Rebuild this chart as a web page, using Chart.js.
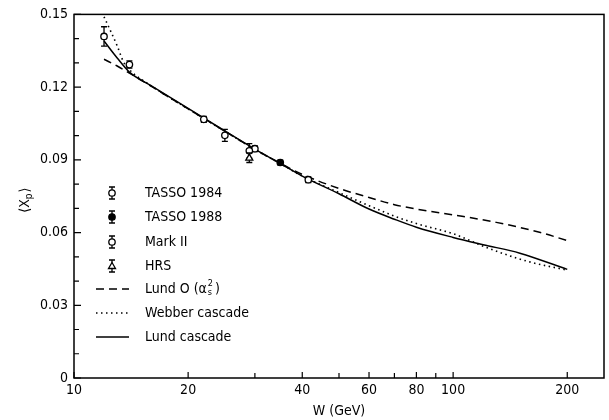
<!DOCTYPE html>
<html><head><meta charset="utf-8">
<script src="https://cdn.jsdelivr.net/npm/chart.js@4.4.0/dist/chart.umd.min.js"></script>
<style>html,body{margin:0;padding:0;background:#fff}</style>
</head><body>
<canvas id="c" width="609" height="420" style="width:609px;height:420px;display:block"></canvas>
<script>
// ---- data ----
const tasso84W = [12, 14, 22, 25, 30, 41.5];
const tasso84X = [0.1409, 0.1293, 0.1067, 0.1001, 0.0946, 0.0818];
const tasso84E = [0.0040, 0.0015, 0.0012, 0.0025, 0.0012, 0.0012];
const tasso88W = [35];
const tasso88X = [0.0889];
const tasso88E = [0.0010];
const mark2W = [29];
const mark2X = [0.0937];
const mark2E = [0.0030];
const hrsW = [29];
const hrsX = [0.0909];
const hrsE = [0.0020];

const lundOW = [12, 13, 14, 16, 20, 25, 30, 35, 40, 50, 60, 70, 80, 100, 130, 170, 200];
const lundOX = [0.1315, 0.1287, 0.1258, 0.1203, 0.1110, 0.1018, 0.0943, 0.0886, 0.0840, 0.0782, 0.0745, 0.0715, 0.0697, 0.0673, 0.0642, 0.0600, 0.0567];
const webberW = [12, 12.5, 13, 13.5, 14, 16, 20, 25, 30, 35, 40, 50, 60, 70, 80, 100, 125, 160, 200];
const webberX = [0.1490, 0.1430, 0.1370, 0.1305, 0.1272, 0.1205, 0.1110, 0.1018, 0.0943, 0.0885, 0.0833, 0.0765, 0.0711, 0.0668, 0.0637, 0.0595, 0.0533, 0.0478, 0.0445];
const lundCW = [12, 13, 14, 16, 20, 25, 30, 35, 40, 50, 60, 70, 80, 100, 120, 150, 200];
const lundCX = [0.1390, 0.1320, 0.1262, 0.1205, 0.1112, 0.1019, 0.0944, 0.0885, 0.0833, 0.0760, 0.0697, 0.0655, 0.0622, 0.0580, 0.0550, 0.0515, 0.0448];

const xTickLabels = [10, 20, 40, 60, 80, 100, 200];
const xMinorTicks = [30, 50, 70, 90];
const yTickLabels = [0, 0.03, 0.06, 0.09, 0.12, 0.15];
const yMinorTicks = [0.01, 0.02, 0.04, 0.05, 0.07, 0.08, 0.10, 0.11, 0.13, 0.14];

const FONT = "'DejaVu Sans Condensed', 'DejaVu Sans', sans-serif";
const pts = (w, v) => w.map((x, i) => ({x, y: v[i]}));

function drawSymbol(ctx, kind, x, y, eTop, eBot) {
  ctx.save();
  ctx.strokeStyle = '#000'; ctx.fillStyle = '#000'; ctx.lineWidth = 1.3;
  if (eTop !== null) {
    ctx.beginPath();
    ctx.moveTo(x, eTop); ctx.lineTo(x, eBot);
    ctx.moveTo(x - 3, eTop); ctx.lineTo(x + 3, eTop);
    ctx.moveTo(x - 3, eBot); ctx.lineTo(x + 3, eBot);
    ctx.stroke();
  }
  ctx.beginPath();
  if (kind === 'tri') {
    ctx.moveTo(x, y - 3.5); ctx.lineTo(x + 3.5, y + 2.5); ctx.lineTo(x - 3.5, y + 2.5); ctx.closePath();
  } else {
    ctx.arc(x, y, 3.2, 0, Math.PI * 2);
  }
  ctx.fillStyle = kind === 'filled' ? '#000' : '#fff';
  ctx.fill(); ctx.stroke();
  ctx.restore();
}

const pointSets = [
  {label: 'TASSO 1984', kind: 'open', W: tasso84W, X: tasso84X, E: tasso84E},
  {label: 'TASSO 1988', kind: 'filled', W: tasso88W, X: tasso88X, E: tasso88E},
  {label: 'Mark II', kind: 'open', W: mark2W, X: mark2X, E: mark2E},
  {label: 'HRS', kind: 'tri', W: hrsW, X: hrsX, E: hrsE},
];

const markersPlugin = {
  id: 'markers',
  afterDatasetsDraw(chart) {
    const {ctx, scales: {x, y}} = chart;
    pointSets.forEach(s => {
      s.W.forEach((w, i) => {
        const px = x.getPixelForValue(w), py = y.getPixelForValue(s.X[i]);
        drawSymbol(ctx, s.kind, px, py, y.getPixelForValue(s.X[i] + s.E[i]), y.getPixelForValue(s.X[i] - s.E[i]));
      });
    });
  }
};

const framePlugin = {
  id: 'frame',
  afterDraw(chart) {
    const {ctx, chartArea: a, scales: {x, y}} = chart;
    ctx.save();
    ctx.strokeStyle = '#000';
    ctx.lineWidth = 1.5;
    ctx.strokeRect(a.left, a.top, a.right - a.left, a.bottom - a.top);
    ctx.lineWidth = 1.2;
    ctx.beginPath();
    yTickLabels.forEach(v => { const p = y.getPixelForValue(v); ctx.moveTo(a.left, p); ctx.lineTo(a.left + 7, p); });
    yMinorTicks.forEach(v => { const p = y.getPixelForValue(v); ctx.moveTo(a.left, p); ctx.lineTo(a.left + 5, p); });
    xTickLabels.forEach(v => { const p = x.getPixelForValue(v); ctx.moveTo(p, a.bottom); ctx.lineTo(p, a.bottom - 6); });
    xMinorTicks.forEach(v => { const p = x.getPixelForValue(v); ctx.moveTo(p, a.bottom); ctx.lineTo(p, a.bottom - 5); });
    ctx.stroke();

    // axis titles
    ctx.fillStyle = '#000';
    ctx.font = '14px ' + FONT;
    ctx.textAlign = 'center'; ctx.textBaseline = 'middle';
    ctx.fillText('W (GeV)', (a.left + a.right) / 2, 411);
    ctx.save();
    ctx.translate(25, (a.top + a.bottom) / 2 + 4);
    ctx.rotate(-Math.PI / 2);
    ctx.textAlign = 'left';
    const t1 = '\u27E8X', t3 = '\u27E9';
    ctx.font = '14px ' + FONT;
    const w1 = ctx.measureText(t1).width;
    ctx.font = '10px ' + FONT;
    const w2 = ctx.measureText('p').width;
    ctx.font = '14px ' + FONT;
    const w3 = ctx.measureText(t3).width;
    let sx = -(w1 + w2 + w3 + 1) / 2;
    ctx.fillText(t1, sx, 0); sx += w1;
    ctx.font = '10px ' + FONT;
    ctx.fillText('p', sx, 4); sx += w2 + 1;
    ctx.font = '14px ' + FONT;
    ctx.fillText(t3, sx, 0);
    ctx.restore();

    // legend
    const lx = 112, tx = 145;
    const rows = [193, 217, 242, 266, 289, 313, 337];
    ctx.textAlign = 'left'; ctx.textBaseline = 'middle';
    pointSets.forEach((s, i) => {
      const yy = rows[i];
      drawSymbol(ctx, s.kind, lx, yy, yy - 6, yy + 6);
      ctx.fillStyle = '#000';
      ctx.font = '14px ' + FONT;
      ctx.fillText(s.label, tx, yy);
    });
    const lines = [
      {dash: [8, 5], w: 1.5},
      {dash: [1.5, 3.5], w: 1.6},
      {dash: [], w: 1.5},
    ];
    lines.forEach((l, i) => {
      const yy = rows[4 + i];
      ctx.beginPath(); ctx.setLineDash(l.dash); ctx.lineWidth = l.w;
      ctx.moveTo(96, yy); ctx.lineTo(129, yy); ctx.stroke();
    });
    ctx.setLineDash([]);
    ctx.font = '14px ' + FONT;
    let sx2 = tx;
    const p1 = 'Lund O (\u03B1';
    ctx.fillText(p1, sx2, rows[4]); sx2 += ctx.measureText(p1).width + 1;
    ctx.font = '9px ' + FONT;
    ctx.fillText('2', sx2, rows[4] - 5);
    ctx.fillText('s', sx2, rows[4] + 4);
    sx2 += ctx.measureText('2').width + 2;
    ctx.font = '14px ' + FONT;
    ctx.fillText(')', sx2, rows[4]);
    ctx.fillText('Webber cascade', tx, rows[5]);
    ctx.fillText('Lund cascade', tx, rows[6]);
    ctx.restore();
  }
};

const curveDefaults = {type: 'scatter', showLine: true, pointRadius: 0, borderColor: '#000', fill: false, tension: 0.4, cubicInterpolationMode: 'monotone'};

new Chart(document.getElementById('c'), {
  type: 'scatter',
  data: {
    datasets: [
      Object.assign({}, curveDefaults, {label: 'Lund O', data: pts(lundOW, lundOX), borderWidth: 1.5, borderDash: [8, 5]}),
      Object.assign({}, curveDefaults, {label: 'Webber cascade', data: pts(webberW, webberX), borderWidth: 1.6, borderDash: [1.5, 3.5]}),
      Object.assign({}, curveDefaults, {label: 'Lund cascade', data: pts(lundCW, lundCX), borderWidth: 1.5}),
    ]
  },
  options: {
    responsive: false,
    animation: false,
    devicePixelRatio: 1,
    layout: {padding: {top: 13, right: 5, left: 0, bottom: 0}},
    plugins: {legend: {display: false}, tooltip: {enabled: false}},
    scales: {
      x: {
        type: 'logarithmic', min: 10, max: 250,
        grid: {display: false, drawTicks: false}, border: {display: false},
        ticks: {color: '#000', font: {size: 14, family: FONT}, padding: 4, maxRotation: 0, autoSkip: false,
          callback: v => String(v)},
        afterBuildTicks: s => { s.ticks = xTickLabels.map(v => ({value: v})); },
        afterFit: s => { s.height = 42; }
      },
      y: {
        type: 'linear', min: 0, max: 0.15,
        grid: {display: false, drawTicks: false}, border: {display: false},
        ticks: {color: '#000', font: {size: 14, family: FONT}, padding: 6,
          callback: v => (v === 0 ? '0' : v.toFixed(2))},
        afterBuildTicks: s => { s.ticks = yTickLabels.map(v => ({value: v})); },
        afterFit: s => { s.width = 74; }
      }
    }
  },
  plugins: [markersPlugin, framePlugin]
});
</script>
</body></html>
